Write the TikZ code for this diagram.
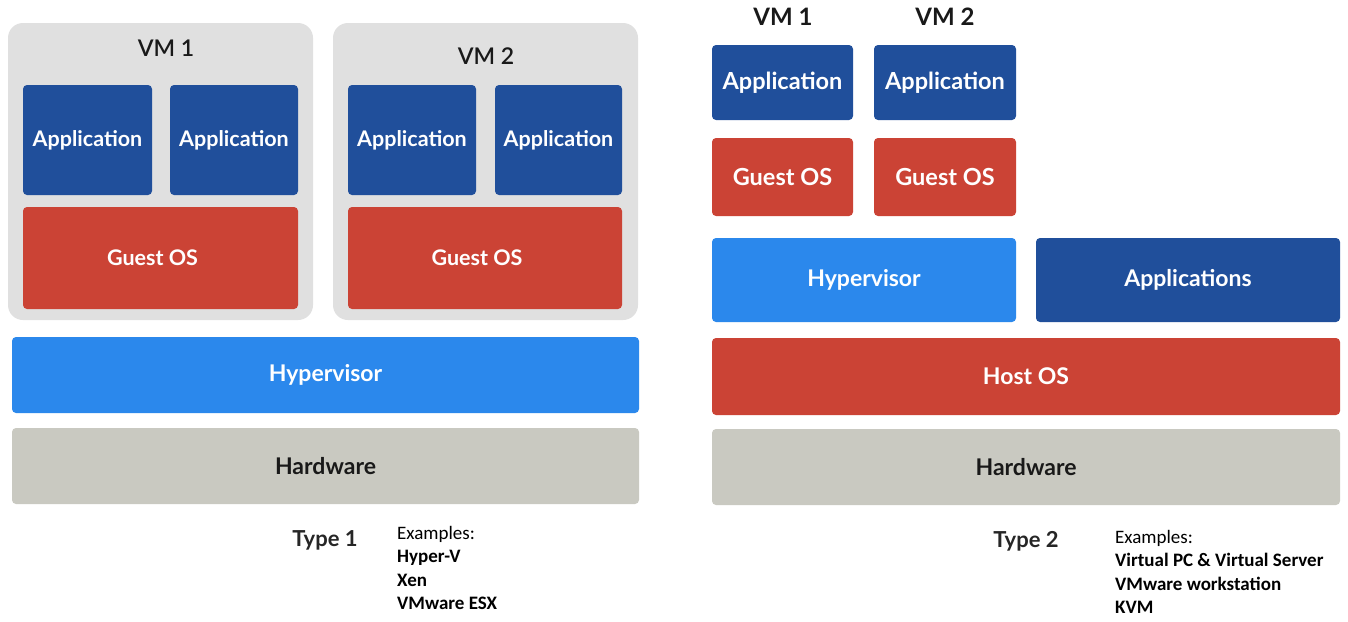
\documentclass[tikz,border=0pt]{standalone}
\usepackage{fontspec}
\setmainfont{Lato}
\newfontfamily\latosemi{Lato Semibold}
\newfontfamily\calib{Carlito}
\definecolor{appblue}{HTML}{204F9B}
\definecolor{osred}{HTML}{CB4335}
\definecolor{hypblue}{HTML}{2B88EC}
\definecolor{hwgray}{HTML}{C9C9C1}
\definecolor{vmgray}{HTML}{E0E0E0}
\tikzset{
  blk/.style={rectangle, rounded corners=4pt, draw=none, inner sep=0pt, text=white, font=\bfseries\fontsize{21.5}{24}\selectfont},
  appbox/.style={blk, fill=appblue},
  osbox/.style={blk, fill=osred},
  hypbox/.style={blk, fill=hypblue, font=\bfseries\fontsize{23}{26}\selectfont},
  hwbox/.style={blk, fill=hwgray, text=black!90, font=\bfseries\fontsize{23}{26}\selectfont},
  bigtxt/.style={font=\bfseries\fontsize{23.5}{26}\selectfont},
  vmbg/.style={rectangle, rounded corners=15pt, fill=vmgray, draw=none, inner sep=0pt},
  vmlabel/.style={inner sep=0pt, font=\latosemi\fontsize{23}{26}\selectfont, text=black!90},
  rvmlabel/.style={inner sep=0pt, font=\bfseries\fontsize{24}{26}\selectfont, text=black!90},
  typelabel/.style={inner sep=0pt, font=\bfseries\fontsize{22}{26}\selectfont, text=black!85},
  exlist/.style={inner sep=0pt, anchor=north west, align=left, font=\calib\fontsize{19}{23.5}\selectfont},
}
\begin{document}
\begin{tikzpicture}[x=1pt,y=-1pt]
\useasboundingbox[fill=white] (0,0) rectangle (1348,621);
% ---------- Type 1 ----------
\node[vmbg, minimum width=305, minimum height=297] (vm1bg) at (160.5,171.5) {};
\node[vmbg, minimum width=305, minimum height=297] (vm2bg) at (485.5,171.5) {};
\node[vmlabel] (vm1l) at (166,48) {VM 1};
\node[vmlabel] (vm2l) at (486,56) {VM 2};
\node[appbox, minimum width=129, minimum height=110] (a11) at (87.5,140) {Application};
\node[appbox, minimum width=128, minimum height=110] (a12) at (234,140) {Application};
\node[osbox, minimum width=275, minimum height=102] (g1) at (160.5,258) {};
\node[text=white, inner sep=0pt, font=\bfseries\fontsize{21.5}{24}\selectfont] (g1t) at ([xshift=-8pt]g1.center) {Guest OS};
\node[appbox, minimum width=128, minimum height=110] (a21) at (412,140) {Application};
\node[appbox, minimum width=127, minimum height=110] (a22) at (558.5,140) {Application};
\node[osbox, minimum width=274, minimum height=102] (g2) at (485,258) {};
\node[text=white, inner sep=0pt, font=\bfseries\fontsize{21.5}{24}\selectfont] (g2t) at ([xshift=-8pt]g2.center) {Guest OS};
\node[hypbox, minimum width=627, minimum height=76] (hyp1) at (325.5,375) {Hypervisor};
\node[hwbox, minimum width=627, minimum height=76] (hw1) at (325.5,466) {Hardware};
\node[typelabel] (t1) at (325,540) {Type 1};
\node[exlist] (ex1) at (397,526) {Examples:\\\bfseries Hyper-V\\\bfseries Xen\\\bfseries VMware ESX};
% ---------- Type 2 ----------
\node[rvmlabel] (rvm1l) at (783,17) {VM 1};
\node[rvmlabel] (rvm2l) at (945,17) {VM 2};
\node[appbox, bigtxt, minimum width=141, minimum height=75] (ra1) at (782.5,82.5) {Application};
\node[appbox, bigtxt, minimum width=142, minimum height=75] (ra2) at (945,82.5) {Application};
\node[osbox, bigtxt, minimum width=141, minimum height=78] (rg1) at (782.5,177) {Guest OS};
\node[osbox, bigtxt, minimum width=142, minimum height=78] (rg2) at (945,177) {Guest OS};
\node[hypbox, minimum width=304, minimum height=84] (rhyp) at (864,280) {Hypervisor};
\node[appbox, hypbox, fill=appblue, minimum width=304, minimum height=84] (rapps) at (1188,280) {Applications};
\node[osbox, hypbox, fill=osred, minimum width=628, minimum height=77] (rhost) at (1026,376.5) {Host OS};
\node[hwbox, minimum width=628, minimum height=76] (rhw) at (1026,467) {Hardware};
\node[typelabel] (t2) at (1026,541) {Type 2};
\node[exlist] (ex2) at (1115,530) {Examples:\\\bfseries Virtual PC \& Virtual Server\\\bfseries VMware workstation\\\bfseries KVM};
\end{tikzpicture}
\end{document}
